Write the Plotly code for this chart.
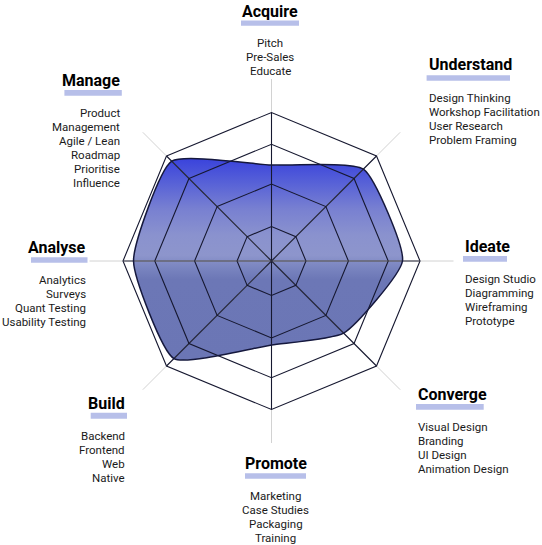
import numpy as np
import plotly.graph_objects as go

W, H = 542, 545

# ---------------- data ----------------
categories = ["Acquire", "Understand", "Ideate", "Converge", "Promote", "Build", "Analyse", "Manage"]
scores = [64.6, 87.5, 88.2, 68.7, 56.6, 92.9, 92.9, 95.0]
ring_levels = [23.2, 51.8, 78.6, 100]

acquire_items = ["Pitch", "Pre-Sales", "Educate"]
understand_items = ["Design Thinking", "Workshop Facilitation", "User Research", "Problem Framing"]
ideate_items = ["Design Studio", "Diagramming", "Wireframing", "Prototype"]
converge_items = ["Visual Design", "Branding", "UI Design", "Animation Design"]
promote_items = ["Marketing", "Case Studies", "Packaging", "Training"]
build_items = ["Backend", "Frontend", "Web", "Native"]
analyse_items = ["Analytics", "Surveys", "Quant Testing", "Usability Testing"]
manage_items = ["Product", "Management", "Agile / Lean", "Roadmap", "Prioritise", "Influence"]

items_by_cat = {
    "Acquire": acquire_items, "Understand": understand_items, "Ideate": ideate_items,
    "Converge": converge_items, "Promote": promote_items, "Build": build_items,
    "Analyse": analyse_items, "Manage": manage_items,
}

# ---------------- geometry (pixels) ----------------
CX, CY = 271.5, 261.0          # chart centre
R_OUT = 148.5                  # outer ring radius in px
R_EXT = 182.0                  # spoke extension radius in px
OUTER_VAL = 100.0
RMAX = OUTER_VAL * R_EXT / R_OUT
SMOOTH = 0.5

def px(x):
    return x / W

def py(y):
    return 1 - y / H

dom_x = [px(CX - R_EXT), px(CX + R_EXT)]
dom_y = [py(CY + R_EXT), py(CY - R_EXT)]

fig = go.Figure()

# gradient fill (cartesian overlay aligned with the polar subplot)
ang = np.deg2rad(np.arange(len(categories)) * 360.0 / len(categories))
r_arr = np.array(scores)
fx = list(r_arr * np.sin(ang)) + [r_arr[0] * np.sin(ang[0])]
fy = list(r_arr * np.cos(ang)) + [r_arr[0] * np.cos(ang[0])]
fig.add_trace(go.Scatter(
    x=fx, y=fy, mode="lines", line=dict(width=0, shape="spline", smoothing=SMOOTH),
    fill="toself",
    fillgradient=dict(type="vertical", colorscale=[
        [0.0, "#6b76b5"], [0.40, "#6c77b6"], [0.46, "#7a85c0"], [0.52, "#8d95cc"],
        [0.62, "#8a92ce"], [0.75, "#7880d1"], [0.88, "#5761d7"], [1.0, "#3a43dc"]]),
    hoverinfo="skip", showlegend=False, xaxis="x", yaxis="y",
))

# inner spokes
spoke_r, spoke_t = [], []
hspoke_r, hspoke_t = [], []
for c in categories:
    if c in ("Ideate", "Analyse"):
        hspoke_r += [0, OUTER_VAL, None]
        hspoke_t += [c, c, None]
    else:
        spoke_r += [0, OUTER_VAL, None]
        spoke_t += [c, c, None]
fig.add_trace(go.Scatterpolar(r=spoke_r, theta=spoke_t, mode="lines",
                              line=dict(color="#161830", width=1.1), connectgaps=False,
                              hoverinfo="skip", showlegend=False))
fig.add_trace(go.Scatterpolar(r=hspoke_r, theta=hspoke_t, mode="lines",
                              line=dict(color="rgba(60,60,75,0.75)", width=1.6), connectgaps=False,
                              hoverinfo="skip", showlegend=False))

# data outline
fig.add_trace(go.Scatterpolar(
    r=scores + [scores[0]], theta=categories + [categories[0]], mode="lines",
    line=dict(color="#15183d", width=1.5, shape="spline", smoothing=SMOOTH),
    hoverinfo="skip", showlegend=False,
))

fig.update_layout(
    width=W, height=H, margin=dict(l=0, r=0, t=0, b=0),
    paper_bgcolor="white", plot_bgcolor="rgba(0,0,0,0)", showlegend=False,
    xaxis=dict(domain=dom_x, range=[-RMAX, RMAX], visible=False, fixedrange=True),
    yaxis=dict(domain=dom_y, range=[-RMAX, RMAX], visible=False, fixedrange=True),
    polar=dict(
        domain=dict(x=dom_x, y=dom_y),
        bgcolor="rgba(0,0,0,0)",
        gridshape="linear",
        angularaxis=dict(type="category", categoryorder="array", categoryarray=categories,
                         rotation=90, direction="clockwise", showline=False,
                         showticklabels=False, ticks="", showgrid=True,
                         gridcolor="#d2d2d2", gridwidth=1),
        radialaxis=dict(range=[0, RMAX], tickvals=ring_levels, showticklabels=False,
                        ticks="", showline=False, gridcolor="#161830", gridwidth=1.1),
    ),
)

# ---------------- labels ----------------
# (anchor x, xanchor, title y, bar x0, bar x1, bar y0, bar y1, first item y, item step)
label_layout = {
    "Acquire":    (270.0, "center", 11.0, 241.0, 299.0, 20.5, 25.7, 42.7, 14.0),
    "Understand": (426.6, "left", 65.0, 426.6, 510.0, 75.3, 80.7, 98.0, 13.9),
    "Ideate":     (463.0, "left", 246.0, 463.0, 507.0, 256.0, 261.7, 279.0, 13.9),
    "Converge":   (416.0, "left", 394.5, 416.0, 483.7, 404.0, 409.7, 426.7, 14.0),
    "Promote":    (275.5, "center", 463.0, 245.0, 306.0, 473.3, 478.7, 495.7, 14.0),
    "Build":      (127.0, "right", 403.5, 90.7, 127.0, 412.7, 418.7, 435.7, 14.0),
    "Analyse":    (87.5, "right", 247.0, 31.0, 87.5, 257.3, 262.7, 280.0, 13.9),
    "Manage":     (121.8, "right", 80.5, 64.4, 121.8, 90.0, 95.7, 112.7, 14.1),
}

for cat in categories:
    ax_, xa, ty, bx0, bx1, by0, by1, iy, step = label_layout[cat]
    fig.add_annotation(x=px(ax_), y=py(ty), xref="paper", yref="paper", text="<b>" + cat + "</b>",
                       showarrow=False, xanchor=xa, yanchor="middle",
                       font=dict(family="Roboto", size=16, color="#000000"))
    fig.add_shape(type="rect", xref="paper", yref="paper", x0=px(bx0), x1=px(bx1),
                  y0=py(by1), y1=py(by0), fillcolor="#b7bfe9", line=dict(width=0))
    for k, it in enumerate(items_by_cat[cat]):
        fig.add_annotation(x=px(ax_), y=py(iy + k * step), xref="paper", yref="paper", text=it,
                           showarrow=False, xanchor=xa, yanchor="middle",
                           font=dict(family="Roboto", size=11.5, color="#1a1a1a"))

fig.write_html("out.html", config={"displayModeBar": False, "staticPlot": True},
               post_script="document.body.style.margin='0';document.body.style.overflow='hidden';")
